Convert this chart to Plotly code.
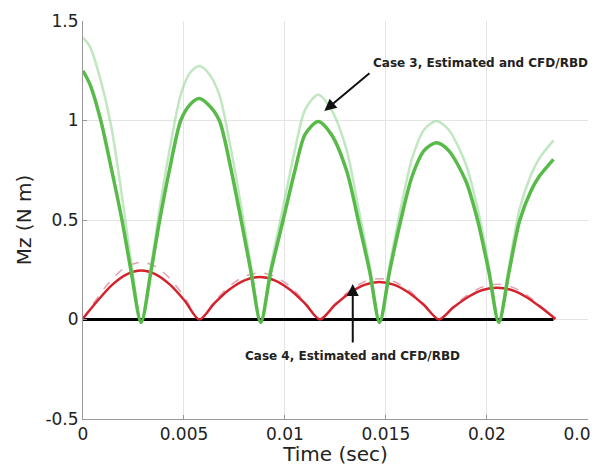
import plotly.graph_objects as go

# ---- Case 3 (green) : estimated (dark) and CFD/RBD (light) ----
t_c3 = [0, 0.00035, 0.00088, 0.0014, 0.00193, 0.00238, 0.00288,
        0.00337, 0.0038, 0.0043, 0.00484, 0.0053, 0.00575, 0.0062, 0.00675, 0.0073, 0.00783, 0.0083, 0.0088,
        0.0093, 0.0099, 0.01049, 0.0110, 0.01165, 0.0123, 0.01306, 0.01364, 0.0142, 0.01469,
        0.0152, 0.01574, 0.0163, 0.0169, 0.0175, 0.0181, 0.01896, 0.01954, 0.0201, 0.02059,
        0.0211, 0.02162, 0.0222, 0.0226, 0.0233]
mz_c3_est = [1.25, 1.18, 1.0, 0.76, 0.5, 0.244, -0.015,
             0.244, 0.5, 0.76, 1.0, 1.08, 1.11, 1.08, 1.0, 0.77, 0.5, 0.25, -0.015,
             0.24, 0.495, 0.746, 0.93, 0.995, 0.93, 0.746, 0.495, 0.24, -0.015,
             0.25, 0.5, 0.72, 0.85, 0.888, 0.85, 0.696, 0.5, 0.24, -0.015,
             0.24, 0.495, 0.65, 0.72, 0.805]
mz_c3_cfd = [1.416, 1.37, 1.20, 0.97, 0.62, 0.29, -0.01,
             0.27, 0.56, 0.86, 1.13, 1.24, 1.274, 1.24, 1.13, 0.87, 0.57, 0.28, -0.01,
             0.27, 0.56, 0.85, 1.055, 1.13, 1.055, 0.85, 0.56, 0.27, -0.01,
             0.28, 0.56, 0.81, 0.955, 0.997, 0.955, 0.78, 0.56, 0.27, -0.01,
             0.27, 0.555, 0.73, 0.81, 0.90]

# ---- Case 4 (red) : estimated (solid) and CFD/RBD (dashed pink) ----
t_c4 = [0, 0.00072, 0.00144, 0.00216, 0.00288, 0.0036, 0.00432, 0.00504, 0.00576,
        0.00651, 0.00725, 0.008, 0.00875, 0.00949, 0.01024, 0.01098, 0.01173,
        0.01247, 0.01321, 0.01394, 0.01468, 0.01542, 0.01616, 0.01689, 0.01763,
        0.01835, 0.01907, 0.01979, 0.02051, 0.02123, 0.02195, 0.02267, 0.0234]
mz_c4_est = [0.005, 0.094, 0.174, 0.227, 0.246, 0.227, 0.174, 0.094, 0.0,
             0.082, 0.151, 0.197, 0.213, 0.197, 0.151, 0.082, 0.0,
             0.072, 0.133, 0.174, 0.188, 0.174, 0.133, 0.072, 0.0,
             0.061, 0.113, 0.148, 0.160, 0.148, 0.113, 0.061, 0.003]
mz_c4_cfd = [0.005, 0.11, 0.204, 0.266, 0.288, 0.266, 0.204, 0.11, 0.0,
             0.09, 0.167, 0.217, 0.235, 0.217, 0.167, 0.09, 0.0,
             0.078, 0.145, 0.19, 0.205, 0.19, 0.145, 0.078, 0.0,
             0.068, 0.125, 0.164, 0.177, 0.164, 0.125, 0.068, 0.003]

# ---- zero reference line ----
t_zero = [0, 0.0233]
mz_zero = [0, 0]

x_ticks = [0, 0.005, 0.01, 0.015, 0.02, 0.025]
x_ticklabels = ["0", "0.005", "0.01", "0.015", "0.02", "0.025"]
y_ticks = [-0.5, 0, 0.5, 1, 1.5]
y_ticklabels = ["-0.5", "0", "0.5", "1", "1.5"]

fig = go.Figure()
fig.add_trace(go.Scatter(x=t_zero, y=mz_zero, mode="lines",
                         line=dict(color="black", width=3), name="zero"))
fig.add_trace(go.Scatter(x=t_c4, y=mz_c4_cfd, mode="lines",
                         line=dict(color="rgba(225,150,165,0.9)", width=1.5, dash="dash",
                                   shape="spline", smoothing=0.8),
                         name="Case 4 CFD/RBD"))
fig.add_trace(go.Scatter(x=t_c4, y=mz_c4_est, mode="lines",
                         line=dict(color="rgb(212,35,45)", width=2.5, shape="spline", smoothing=0.8),
                         name="Case 4 Estimated"))
fig.add_trace(go.Scatter(x=t_c3, y=mz_c3_cfd, mode="lines",
                         line=dict(color="rgba(150,215,150,0.6)", width=2.5, shape="spline", smoothing=0.8),
                         name="Case 3 CFD/RBD"))
fig.add_trace(go.Scatter(x=t_c3, y=mz_c3_est, mode="lines",
                         line=dict(color="rgb(88,186,72)", width=3.5, shape="spline", smoothing=0.8),
                         name="Case 3 Estimated"))

font_fam = "DejaVu Sans, Verdana, sans-serif"

fig.add_annotation(x=0.01195, y=1.048, ax=0.01426, ay=1.244, xref="x", yref="y",
                   axref="x", ayref="y", text="", showarrow=True,
                   arrowhead=2, arrowsize=1.2, arrowwidth=2, arrowcolor="#111")
fig.add_annotation(x=0.01969, y=1.289, xref="x", yref="y", text="<b>Case 3, Estimated and CFD/RBD</b>",
                   showarrow=False, font=dict(family=font_fam, size=12, color="#222"))
fig.add_annotation(x=0.01336, y=0.178, ax=0.01336, ay=-0.123, xref="x", yref="y",
                   axref="x", ayref="y", text="", showarrow=True,
                   arrowhead=2, arrowsize=1.2, arrowwidth=2, arrowcolor="#111")
fig.add_annotation(x=0.01336, y=-0.183, xref="x", yref="y", text="<b>Case 4, Estimated and CFD/RBD</b>",
                   showarrow=False, font=dict(family=font_fam, size=12, color="#222"))

# page body adds an 8px offset, so the figure is 8px smaller and margins shifted
fig.update_layout(
    width=590, height=458, template="none",
    paper_bgcolor="white", plot_bgcolor="white",
    margin=dict(l=75, r=10, t=13, b=47),
    showlegend=False,
    font=dict(family=font_fam, size=17, color="#222"),
)
fig.update_xaxes(range=[0, 0.02501], tickvals=x_ticks, ticktext=x_ticklabels,
                 ticklabeloverflow="allow",
                 showgrid=True, gridcolor="#e4e4e4", gridwidth=1,
                 showline=True, linecolor="#999", linewidth=1, mirror=False,
                 ticks="inside", ticklen=4, tickcolor="#999",
                 zeroline=False, automargin=False,
                 title=dict(text="Time (sec)", font=dict(size=20), standoff=0))
fig.update_yaxes(range=[-0.5, 1.5], tickvals=y_ticks, ticktext=y_ticklabels,
                 showgrid=True, gridcolor="#e4e4e4", gridwidth=1,
                 showline=True, linecolor="#999", linewidth=1, mirror=False,
                 ticks="inside", ticklen=4, tickcolor="#999",
                 zeroline=False, automargin=False,
                 title=dict(text="Mz (N m)", font=dict(size=20), standoff=8))

fig.write_html("out.html")
